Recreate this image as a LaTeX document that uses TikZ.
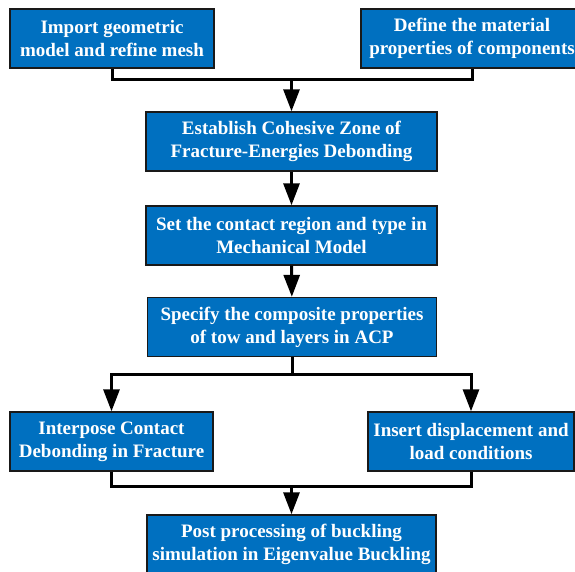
\documentclass[tikz,border=0pt]{standalone}
\usepackage{fontspec}
\setmainfont{Liberation Serif}
\usetikzlibrary{arrows.meta}
\definecolor{boxblue}{HTML}{0070C0}

\begin{document}
\begin{tikzpicture}[x=1pt,y=1pt,
    box/.style={draw=black!90,line width=1.4pt,fill=boxblue,text=white,
      font=\fontsize{19}{23}\selectfont\bfseries,align=center,
      minimum height=59pt,inner sep=1pt},
    conn/.style={line width=3pt},
    arr/.style={conn,-{Triangle[length=22pt,width=16pt]}}]
  \useasboundingbox (0,0) rectangle (575,-572);

  \node[box,minimum width=204pt] (import) at (112,-38.5) {Import geometric\\model and refine mesh};
  \node[box,minimum width=222pt] (define) at (472,-38.5) {Define the material\\properties of components};
  \node[box,minimum width=291pt] (cohesive) at (291.5,-141.5) {Establish Cohesive Zone of\\Fracture-Energies Debonding};
  \node[box,minimum width=291pt] (contact) at (291.5,-235.5) {Set the contact region and type in\\Mechanical Model};
  \node[box,minimum width=289pt] (acp) at (292,-327) {Specify the composite properties\\of tow and layers in ACP};
  \node[box,minimum width=203pt] (fracture) at (111.5,-441.5) {Interpose Contact\\Debonding in Fracture};
  \node[box,minimum width=206pt] (load) at (471,-441.5) {Insert displacement and\\load conditions};
  \node[box,minimum width=289pt] (buckling) at (291.5,-544.5) {Post processing of buckling\\simulation in Eigenvalue Buckling};

  \coordinate (top) at (cohesive.north |- 0,-80);
  \coordinate (split) at (acp.south |- 0,-374);
  \coordinate (merge) at (buckling.north |- 0,-486);

  \draw[conn] (import.south) |- (top);
  \draw[conn] (define.south) |- (top);
  \draw[arr] (top) -- (cohesive.north);
  \draw[arr] (cohesive) -- (contact);
  \draw[arr] (contact) -- (acp);
  \draw[conn] (acp.south) -- (split);
  \draw[arr] (split) -| (fracture.north);
  \draw[arr] (split) -| (load.north);
  \draw[conn] (fracture.south) |- (merge);
  \draw[conn] (load.south) |- (merge);
  \draw[arr] (merge) -- (buckling.north);
\end{tikzpicture}
\end{document}
